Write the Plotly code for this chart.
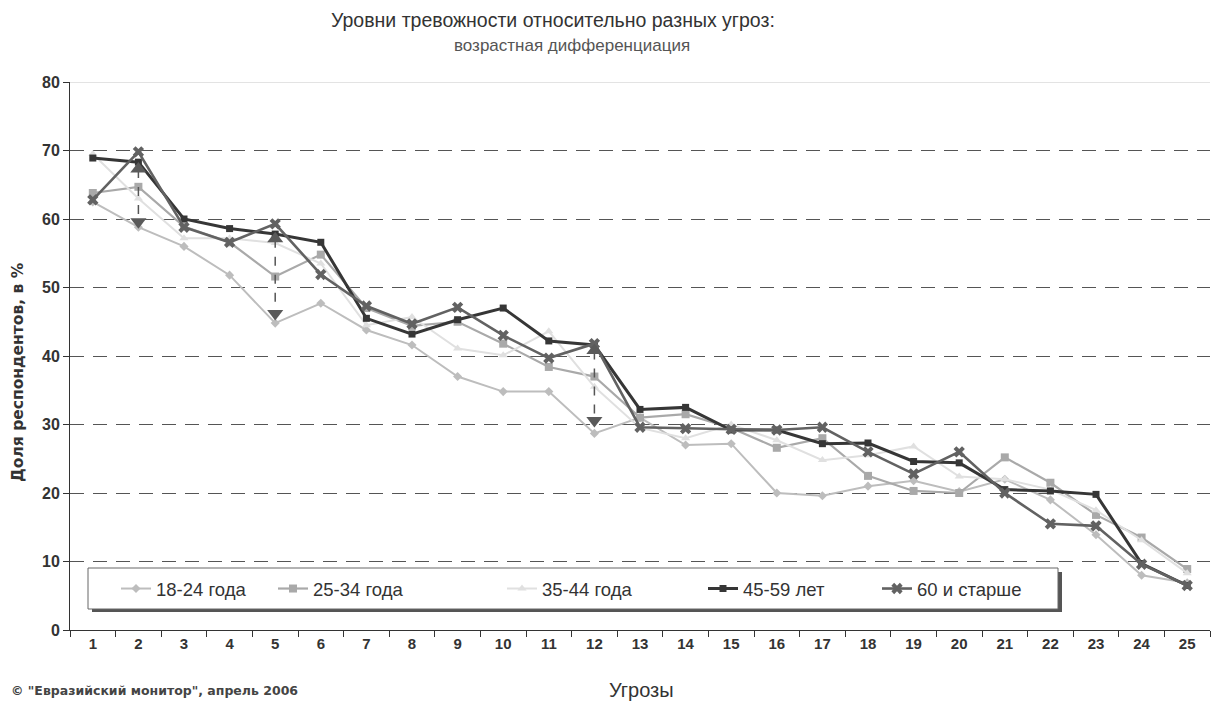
import plotly.graph_objects as go

threats = [str(i) for i in range(1, 26)]

age_18_24 = [62.5, 58.8, 56.0, 51.8, 44.8, 47.7, 43.8, 41.6, 37.0, 34.8, 34.8, 28.7, 31.0,
             27.0, 27.2, 20.0, 19.6, 21.0, 21.8, 20.2, 22.0, 19.0, 13.9, 8.0, 6.9]
age_25_34 = [63.8, 64.7, 58.9, 56.6, 51.6, 54.8, 47.0, 44.4, 45.0, 41.8, 38.4, 37.0, 31.0,
             31.5, 29.5, 26.6, 28.0, 22.5, 20.3, 20.0, 25.2, 21.5, 16.8, 13.5, 8.9]
age_35_44 = [69.5, 63.0, 57.2, 57.2, 56.5, 53.5, 44.5, 45.7, 41.1, 40.1, 43.6, 35.5, 29.5,
             28.0, 30.0, 27.7, 24.8, 25.5, 26.8, 22.4, 22.0, 20.5, 17.5, 13.1, 8.3]
age_45_59 = [68.9, 68.3, 60.0, 58.6, 57.8, 56.6, 45.5, 43.2, 45.3, 47.0, 42.2, 41.6, 32.2,
             32.5, 29.2, 29.2, 27.2, 27.3, 24.6, 24.4, 20.5, 20.3, 19.8, 9.7, 6.5]
age_60_plus = [62.8, 69.8, 58.8, 56.6, 59.3, 51.9, 47.3, 44.7, 47.1, 43.0, 39.7, 41.8, 29.6,
               29.4, 29.3, 29.2, 29.6, 26.0, 22.8, 26.0, 20.0, 15.5, 15.2, 9.6, 6.5]

series_names = ["18-24 года", "25-34 года", "35-44 года", "45-59 лет", "60 и старше"]

arrow_x = ["2", "5", "12"]
arrow_top = [67.3, 57.1, 40.8]
arrow_bottom = [59.6, 46.2, 30.6]

y_ticks = [0, 10, 20, 30, 40, 50, 60, 70, 80]

FONT = "Liberation Sans, Arial, sans-serif"

# plot area in screen pixels (reference): x 70..1210, y 82..630
PX0, PX1, PY0, PY1 = 70, 1210, 82, 630
# page body has an 8px margin
OFF = 8


def px(x):
    return (x - PX0) / (PX1 - PX0)


def py(y):
    return (PY1 - y) / (PY1 - PY0)


styles = [
    dict(color="#bdbdbd", width=2, symbol="diamond", size=7),
    dict(color="#a9a9a9", width=2.2, symbol="square", size=8),
    dict(color="#e0e0e0", width=2, symbol="triangle-up", size=8),
    dict(color="#363636", width=3, symbol="square", size=7),
    dict(color="#626262", width=2.6, symbol="x", size=10),
]
legend_ids = ["legend", "legend2", "legend3", "legend4", "legend5"]
legend_text_x = [156, 313, 542, 743, 917]

fig = go.Figure()

for name, vals, st, lid in zip(series_names,
                               [age_18_24, age_25_34, age_35_44, age_45_59, age_60_plus],
                               styles, legend_ids):
    fig.add_trace(go.Scatter(
        x=threats, y=vals, name=name, mode="lines+markers", legend=lid,
        line=dict(color=st["color"], width=st["width"]),
        marker=dict(symbol=st["symbol"], size=st["size"], color=st["color"],
                    line=dict(width=0)),
    ))

# dashed double arrows
for xa, yt, yb in zip(arrow_x, arrow_top, arrow_bottom):
    fig.add_trace(go.Scatter(
        x=[xa, xa], y=[yt, yb], mode="lines", showlegend=False, hoverinfo="skip",
        line=dict(color="#555555", width=1.5, dash="dash"),
    ))
    fig.add_trace(go.Scatter(
        x=[xa, xa], y=[yt, yb], mode="markers", showlegend=False, hoverinfo="skip",
        marker=dict(symbol=["triangle-up", "triangle-down"], size=14, color="#5a5a5a"),
    ))

# legend box with shadow (styling)
fig.add_shape(type="rect", xref="paper", yref="paper",
              x0=px(92), x1=px(1062), y0=py(612), y1=py(572),
              fillcolor="#555555", line=dict(width=0), layer="below")
fig.add_shape(type="rect", xref="paper", yref="paper",
              x0=px(88), x1=px(1058), y0=py(609), y1=py(568),
              fillcolor="white", line=dict(color="#666666", width=1), layer="below")
# top border of plot area
fig.add_shape(type="line", xref="paper", yref="y", x0=0, x1=1, y0=80, y1=80,
              line=dict(color="#c8c8c8", width=1), layer="below")

legends = {}
for lid, tx in zip(legend_ids, legend_text_x):
    legends[lid] = dict(orientation="h", x=px(tx - 40), xanchor="left",
                        y=py(589), yanchor="middle",
                        bgcolor="rgba(0,0,0,0)", borderwidth=0,
                        font=dict(size=18.5, color="#333333", family=FONT))

fig.update_layout(
    width=1230 - OFF, height=701 - OFF,
    paper_bgcolor="white", plot_bgcolor="white",
    margin=dict(l=PX0 - OFF, r=1230 - PX1, t=PY0 - OFF, b=701 - PY1),
    font=dict(family=FONT, color="#333333"),
    showlegend=True,
    **legends,
    xaxis=dict(
        type="category", range=[-0.5, 24.5], tickson="boundaries", automargin=False,
        ticks="outside", ticklen=6, tickcolor="#333333",
        showline=True, linecolor="#333333", linewidth=1,
        showgrid=False, zeroline=False,
        tickfont=dict(size=15, color="#333333", family=FONT, weight="bold"),
    ),
    yaxis=dict(
        range=[0, 80], tickvals=y_ticks, ticks="outside", ticklen=6, automargin=False,
        tickcolor="#333333", showline=True, linecolor="#333333", linewidth=1,
        showgrid=True, gridcolor="#555555", gridwidth=1, griddash="14px,9px",
        zeroline=False,
        tickfont=dict(size=16, color="#333333", family=FONT, weight="bold"),
    ),
    annotations=[
        dict(text="Уровни тревожности относительно разных угроз:", xref="paper", yref="paper",
             x=px(553), y=py(20), xanchor="center", yanchor="middle",
             showarrow=False, font=dict(size=19.5, color="#333333")),
        dict(text="возрастная дифференциация", xref="paper", yref="paper",
             x=px(572), y=py(45), xanchor="center", yanchor="middle",
             showarrow=False, font=dict(size=17, color="#555555")),
        dict(text="Доля респондентов, в %", xref="paper", yref="paper",
             x=px(18), y=py(372), xanchor="center", yanchor="middle", textangle=-90,
             showarrow=False,
             font=dict(size=15.5, color="#333333", family="DejaVu Sans", weight="bold")),
        dict(text="Угрозы", xref="paper", yref="paper",
             x=px(641), y=py(690), xanchor="center", yanchor="middle",
             showarrow=False, font=dict(size=20, color="#333333")),
        dict(text="© \"Евразийский монитор\", апрель 2006", xref="paper", yref="paper",
             x=px(9), y=py(690), xanchor="left", yanchor="middle",
             showarrow=False,
             font=dict(size=12.5, color="#444444", family="DejaVu Sans", weight="bold")),
    ],
)

fig.write_html("out.html")
